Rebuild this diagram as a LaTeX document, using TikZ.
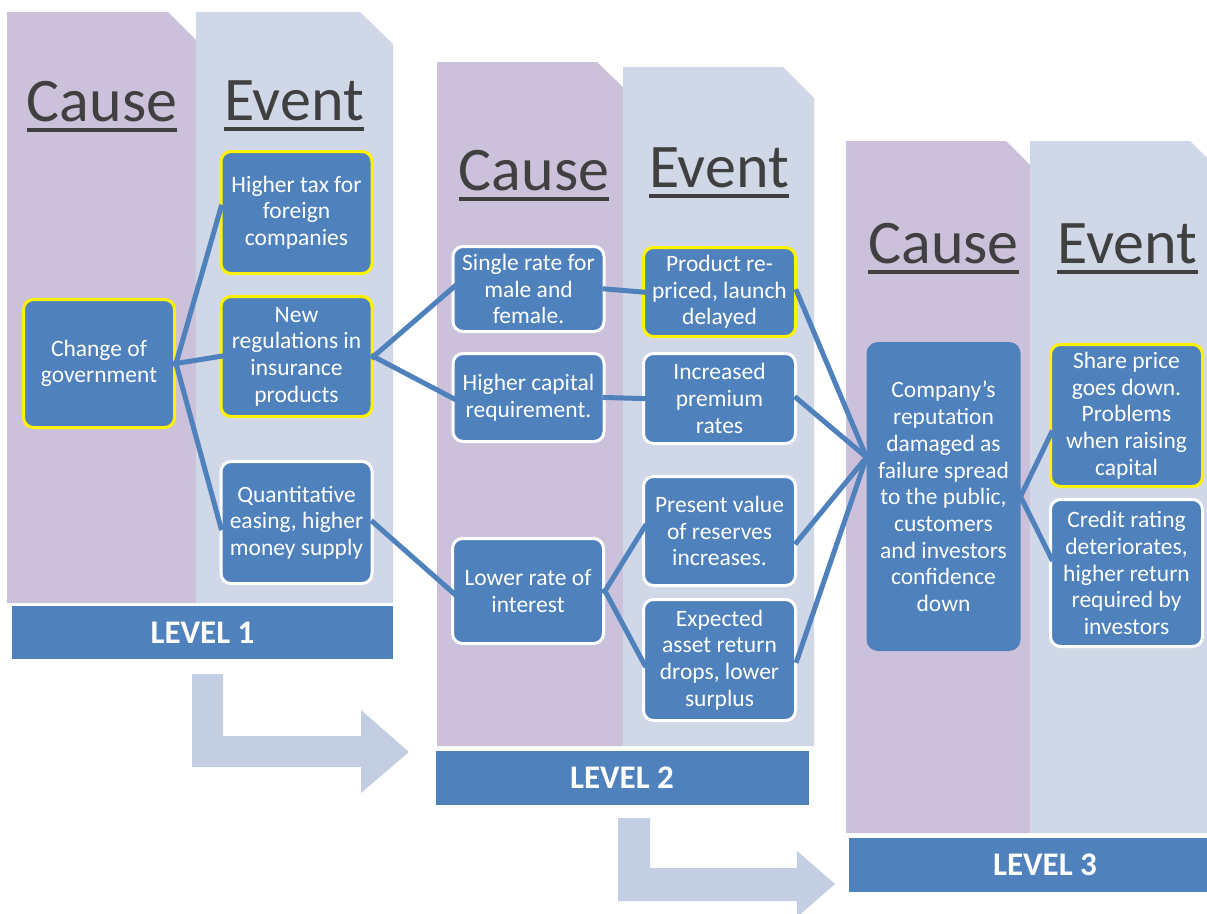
\documentclass[tikz,border=0pt]{standalone}
\usepackage{fontspec}
\setmainfont{Carlito}
\definecolor{causecol}{RGB}{204,193,218}
\definecolor{eventcol}{RGB}{208,216,232}
\definecolor{boxblue}{RGB}{79,129,189}
\definecolor{arrowcol}{RGB}{195,206,226}
\definecolor{titlegray}{RGB}{64,64,64}
\begin{document}
\begin{tikzpicture}[x=1pt,y=-1pt,
  box/.style={draw=white, line width=3pt, fill=boxblue, rounded corners=10pt, text=white, align=center, minimum width=151pt, inner sep=2pt, font=\fontsize{23.5}{26.7}\selectfont},
  hot/.style={box, draw=yellow},
  link/.style={draw=boxblue, line width=5pt, shorten <=-3pt, shorten >=-8pt},
  title/.style={text=titlegray, inner sep=0pt, anchor=base, font=\fontsize{62}{70}\selectfont},
  uline/.style={draw=titlegray, line width=4pt},
  levelbar/.style={fill=boxblue, text=white, inner sep=0pt, font=\bfseries\fontsize{33}{36}\selectfont}]
\useasboundingbox (0,0) rectangle (1207,913);
\clip (0,0) rectangle (1207,913);
% columns
\fill[causecol] (7,12) -- (168,12) -- (196,40) -- (196,603) -- (7,603) -- cycle;
\fill[eventcol] (196,12) -- (360,12) -- (393,44) -- (393,603) -- (196,603) -- cycle;
\fill[causecol] (437,62) -- (597,62) -- (623,87) -- (623,746) -- (437,746) -- cycle;
\fill[eventcol] (623,67) -- (783,67) -- (814,98) -- (814,746) -- (623,746) -- cycle;
\fill[causecol] (846,141) -- (1006,141) -- (1030,165) -- (1030,833) -- (846,833) -- cycle;
\fill[eventcol] (1030,141) -- (1190,141) -- (1221,172) -- (1221,833) -- (1030,833) -- cycle;
% arrows between levels
\fill[arrowcol] (192,674) -- (223,674) -- (223,736) -- (361,736) -- (361,710) -- (409,752) -- (361,793) -- (361,767) -- (192,767) -- cycle;
\fill[arrowcol] (618,818) -- (650,818) -- (650,868) -- (797,868) -- (797,851) -- (835,884) -- (797,917) -- (797,901) -- (618,901) -- cycle;
% level bars
\node[levelbar, minimum width=381pt, minimum height=53pt] (l1) at (202.5,632.5) {LEVEL 1};
\node[levelbar, minimum width=373pt, minimum height=54pt] (l2) at (622,778) {LEVEL 2};
\node[levelbar, minimum width=392pt, minimum height=54pt] (l3) at (1045,865) {LEVEL 3};
% titles
\node[title] (c1) at (102,121) {Cause};
\node[title] (e1) at (294,120) {Event};
\node[title] (c2) at (534,190) {Cause};
\node[title] (e2) at (719,187) {Event};
\node[title] (c3) at (943.5,263) {Cause};
\node[title] (e3) at (1127.5,263) {Event};
\foreach \t in {c1,e1,c2,e2,c3,e3}
  \draw[uline] ([yshift=-9pt]\t.base west) -- ([yshift=-9pt]\t.base east);
% level 1
\node[hot, minimum height=128pt] (gov) at (99,363.5) {Change of\\government};
\node[hot, minimum height=122pt] (tax) at (296.5,212.5) {Higher tax for\\foreign\\companies};
\node[hot, minimum height=120pt] (reg) at (296.5,356.5) {New\\regulations in\\insurance\\products};
\node[box, minimum height=122pt] (qe) at (296.5,522.5) {Quantitative\\easing, higher\\money supply};
% level 2
\node[box, minimum height=85pt] (single) at (528.5,289) {Single rate for\\male and\\female.};
\node[box, minimum height=88pt] (capital) at (528.5,397.5) {Higher capital\\requirement.};
\node[box, minimum height=105pt] (lower) at (528,591) {Lower rate of\\interest};
\node[hot, minimum height=89pt, minimum width=152pt] (reprice) at (719.5,292) {Product re-\\priced, launch\\delayed};
\node[box, minimum height=90pt, minimum width=152pt] (premium) at (719.5,398.5) {Increased\\premium\\rates};
\node[box, minimum height=109pt, minimum width=152pt] (pv) at (719.5,531) {Present value\\of reserves\\increases.};
\node[box, minimum height=121pt, minimum width=152pt] (asset) at (719.5,660) {Expected\\asset return\\drops, lower\\surplus};
% level 3
\node[box, draw=boxblue, minimum height=306pt] (reput) at (943.5,496.5) {Company’s\\reputation\\damaged as\\failure spread\\to the public,\\customers\\and investors\\confidence\\down};
\node[hot, minimum height=142pt, minimum width=152pt] (share) at (1126.5,415.5) {Share price\\goes down.\\Problems\\when raising\\capital};
\node[box, minimum height=147pt, minimum width=152pt] (credit) at (1126.5,573) {Credit rating\\deteriorates,\\higher return\\required by\\investors};
% links
\path[link] (gov.east) -- (tax.west);
\path[link] (gov.east) -- (reg.west);
\path[link] (gov.east) -- (qe.west);
\path[link] (reg.east) -- (single.west);
\path[link] (reg.east) -- (capital.west);
\path[link] (qe.east) -- (lower.west);
\path[link] (single.east) -- (reprice.west);
\path[link] (capital.east) -- (premium.west);
\path[link] (lower.east) -- (pv.west);
\path[link] (lower.east) -- (asset.west);
\path[link, shorten >=0pt] (reprice.east) -- (reput.153);
\path[link, shorten >=0pt] (premium.east) -- (reput.153);
\path[link, shorten >=0pt] (pv.-8) -- (reput.153);
\path[link, shorten >=0pt] (asset.east) -- (reput.153);
\path[link] (reput.east) -- (share.196);
\path[link] (reput.east) -- (credit.166);
\end{tikzpicture}
\end{document}
